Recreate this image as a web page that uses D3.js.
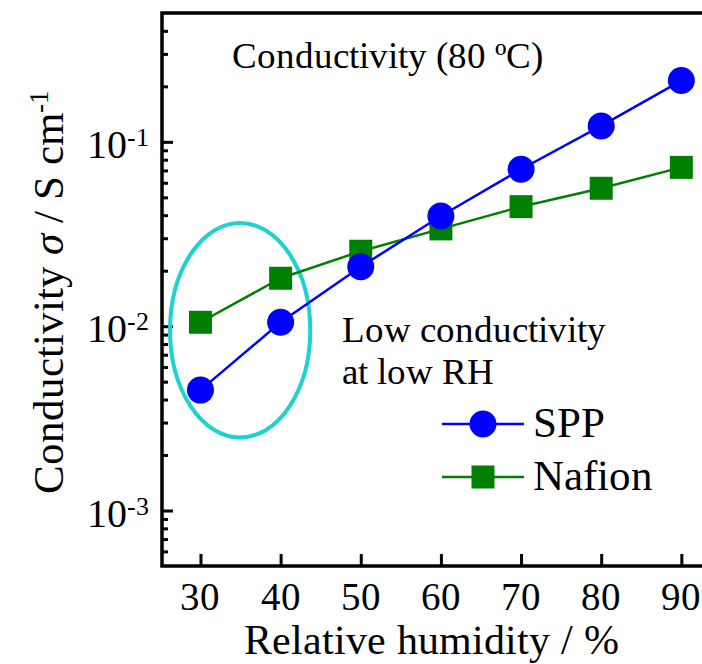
<!DOCTYPE html>
<html><head><meta charset="utf-8"><script src="https://cdn.jsdelivr.net/npm/d3@7"></script>
<style>
@font-face { font-family: "ChartSerif"; src: local("Liberation Serif"), local("LiberationSerif"), local("LiberationSerif-Regular"), local("Times New Roman"), local("Tinos"); font-style: normal; }
@font-face { font-family: "ChartSerif"; src: local("Liberation Serif Italic"), local("LiberationSerif-Italic"); font-style: italic; }
svg text { font-family: "ChartSerif", "Liberation Serif", "Times New Roman", serif !important; }
</style>
</head>
<body style="margin:0">
<svg id="c" width="702" height="664"></svg>
<script>
// ---- data ----
const rh = [30, 40, 50, 60, 70, 80, 90];
const sppValues = [0.0045, 0.0105, 0.021, 0.0396, 0.071, 0.122, 0.215];
const nafionValues = [0.0105, 0.0182, 0.0255, 0.0337, 0.0445, 0.056, 0.0727];
const xTicks = [30, 40, 50, 60, 70, 80, 90];
const yMajorTicks = [1e-3, 1e-2, 1e-1];
const yMajorExponents = ["-3", "-2", "-1"];
const seriesNames = ["SPP", "Nafion"];
// annotation ellipse (RH left/right, sigma bottom/top)
const ellipseRH = [26.2, 43.7];
const ellipseSigma = [0.00249, 0.0363];

// ---- layout ----
const svg = d3.select("#c");
const mLeft = 162, mTop = 13, mBottom = 566, mRight = 715;

const x = d3.scaleLinear().domain([25.2, 94.2]).range([mLeft, mRight]);
const y = d3.scaleLog().domain([5e-4, 0.5]).range([mBottom, mTop]);

// minor ticks
const minor = [];
[1e-4, 1e-3, 1e-2, 1e-1].forEach(d => {
  for (let k = 2; k <= 9; k++) {
    const v = d * k;
    if (v > 5e-4 * 1.01 && v < 0.5 * 0.99) minor.push(v);
  }
});

// y axis (ticks inward)
const yAxisMajor = d3.axisRight(y).tickValues(yMajorTicks).tickSize(11).tickFormat("");
const yAxisMinor = d3.axisRight(y).tickValues(minor).tickSize(6).tickFormat("");
[yAxisMajor, yAxisMinor].forEach(ax => {
  const g = svg.append("g").attr("transform", `translate(${mLeft},0)`).call(ax);
  g.select(".domain").remove();
  g.selectAll("line").attr("stroke", "#000").attr("stroke-width", 3);
});

// x axis (ticks inward)
const xAxis = d3.axisTop(x).tickValues(xTicks).tickSize(12).tickFormat("");
const gx = svg.append("g").attr("transform", `translate(0,${mBottom})`).call(xAxis);
gx.select(".domain").remove();
gx.selectAll("line").attr("stroke", "#000").attr("stroke-width", 3);

// frame
svg.append("rect")
  .attr("x", mLeft).attr("y", mTop)
  .attr("width", mRight - mLeft).attr("height", mBottom - mTop)
  .attr("fill", "none").attr("stroke", "#000").attr("stroke-width", 3.5);

const addText = (px, py, size, str) =>
  svg.append("text").attr("x", px).attr("y", py).attr("font-size", size)
    .attr("font-family", "Liberation Serif").text(str);

// x tick labels
xTicks.forEach(d => addText(x(d), 610, 39, d).attr("text-anchor", "middle"));

// y tick labels with superscripts
yMajorTicks.forEach((d, i) => {
  const t = addText(87, y(d) + 16, 40, null);
  t.append("tspan").text("10");
  t.append("tspan").attr("dy", -12).attr("font-size", 26).text(yMajorExponents[i]);
});

// axis titles
addText(431, 654, 42, "Relative humidity / %").attr("text-anchor", "middle");

const yt = addText(0, 0, 43, null)
  .attr("transform", "translate(63,292) rotate(-90)")
  .attr("text-anchor", "middle");
yt.append("tspan").text("Conductivity ");
yt.append("tspan").attr("font-style", "italic").text("σ");
yt.append("tspan").text(" / S cm");
yt.append("tspan").attr("dy", -15).attr("font-size", 27).text("-1");

// annotation ellipse
svg.append("ellipse")
  .attr("cx", (x(ellipseRH[0]) + x(ellipseRH[1])) / 2)
  .attr("cy", (y(ellipseSigma[0]) + y(ellipseSigma[1])) / 2)
  .attr("rx", (x(ellipseRH[1]) - x(ellipseRH[0])) / 2)
  .attr("ry", (y(ellipseSigma[0]) - y(ellipseSigma[1])) / 2)
  .attr("fill", "none").attr("stroke", "#1ed2d2").attr("stroke-width", 4);

// lines
const line = vals => d3.line().x((d, i) => x(rh[i])).y(d => y(d))(vals);
svg.append("path").attr("d", line(nafionValues))
  .attr("fill", "none").attr("stroke", "#008000").attr("stroke-width", 2.5);
svg.append("g").selectAll("rect").data(nafionValues).join("rect")
  .attr("x", (d, i) => x(rh[i]) - 11.5).attr("y", d => y(d) - 11.5)
  .attr("width", 23).attr("height", 23).attr("fill", "#008000");

svg.append("path").attr("d", line(sppValues))
  .attr("fill", "none").attr("stroke", "#0000ff").attr("stroke-width", 2.5);
svg.append("g").selectAll("circle").data(sppValues).join("circle")
  .attr("cx", (d, i) => x(rh[i])).attr("cy", d => y(d))
  .attr("r", 13.5).attr("fill", "#0000ff");

// annotation texts
addText(232, 68, 36.5, "Conductivity (80 ºC)");
addText(342, 342, 36.5, "Low conductivity");
addText(342, 384, 36.5, "at low RH");

// legend
const legY = [424, 477];
svg.append("line").attr("x1", 442).attr("x2", 524).attr("y1", legY[0]).attr("y2", legY[0])
  .attr("stroke", "#0000ff").attr("stroke-width", 2.5);
svg.append("circle").attr("cx", 483).attr("cy", legY[0]).attr("r", 13.5).attr("fill", "#0000ff");
svg.append("line").attr("x1", 442).attr("x2", 524).attr("y1", legY[1]).attr("y2", legY[1])
  .attr("stroke", "#008000").attr("stroke-width", 2.5);
svg.append("rect").attr("x", 471.5).attr("y", legY[1] - 11.5).attr("width", 23).attr("height", 23)
  .attr("fill", "#008000");
seriesNames.forEach((name, i) => addText(533, legY[i] + 13, 43, name));
</script>
</body></html>
